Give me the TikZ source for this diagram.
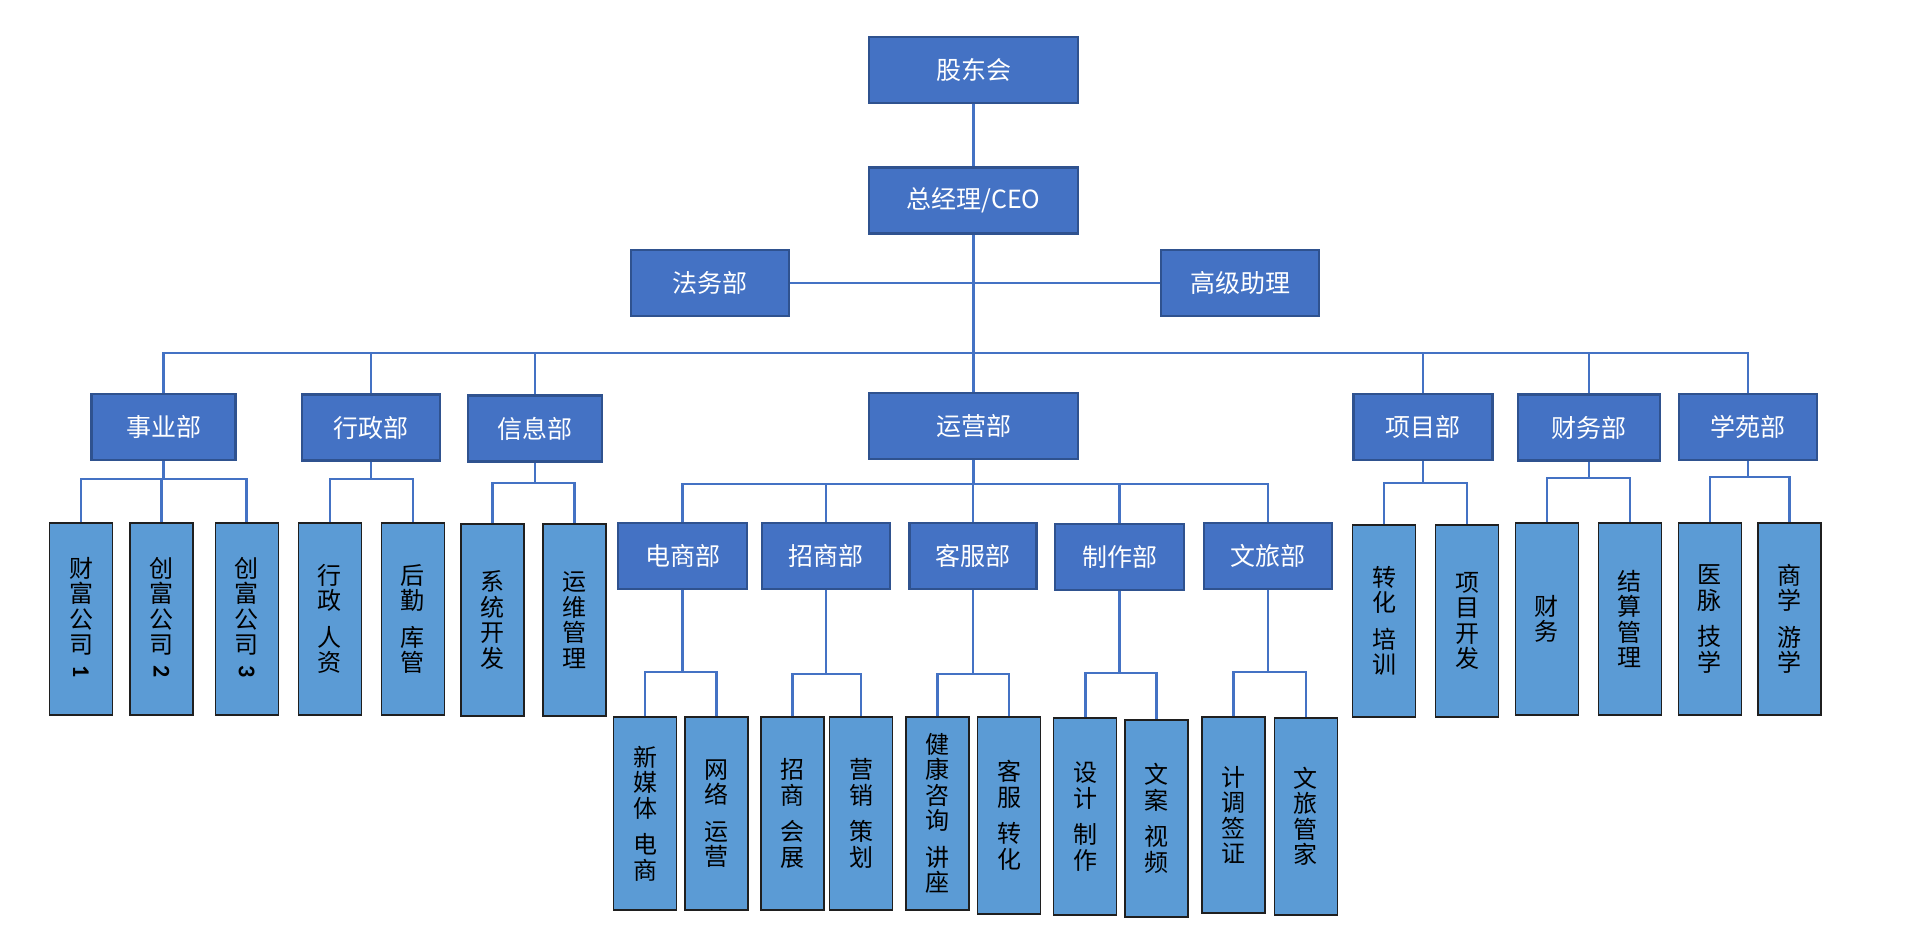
\documentclass[tikz,border=0pt]{standalone}
\usepackage{fontspec}
\newfontfamily\cjk{Noto Sans CJK SC}
\newfontfamily\latb{Carlito}
\definecolor{boxblue}{HTML}{4472C4}
\definecolor{boxborder}{HTML}{2F528F}
\definecolor{leafblue}{HTML}{5B9BD5}
\definecolor{leafborder}{HTML}{1F1F1F}
\definecolor{linkblue}{HTML}{4472C4}
\tikzset{
  lvl/.style={draw=boxborder, line width=2.5pt, fill=boxblue, text=white,
    font=\cjk\fontsize{25}{28}\selectfont, inner sep=0pt, minimum height=66pt},
  leaf/.style={draw=leafborder, line width=1.3pt, fill=leafblue, text=black,
    font=\cjk\fontsize{24}{25.5}\selectfont, align=center, inner sep=0pt, minimum width=63pt},
  digit/.style={rotate=-90, inner sep=0pt, text=black,
    font=\latb\bfseries\fontsize{24}{24}\selectfont},
  conn/.style={draw=linkblue, line width=2.5pt},
}
\newcommand\kidstwo[4]{%
  \coordinate (tmpb) at (0,#4);
  \draw[conn] (#1.south) -- (#1.south |- tmpb);
  \draw[conn] (#2.north) |- (#3.north |- tmpb) -- (#3.north);
}
\begin{document}
\begin{tikzpicture}[x=1pt,y=-1pt]
\useasboundingbox (0,0) rectangle (1920,940);
\fill[white] (0,0) rectangle (1920,940);

% top levels
\node[lvl, minimum width=209pt] (gd) at (973.5,70) {股东会};
\node[lvl, minimum width=209pt] (ceo) at (973.5,200.5) {总经理/CEO};
\node[lvl, minimum width=158pt] (fw) at (710,283) {法务部};
\node[lvl, minimum width=158pt] (gj) at (1240,283) {高级助理};

% departments
\node[lvl, minimum width=144pt] (sy) at (163.5,427) {事业部};
\node[lvl, minimum width=138pt] (xz) at (371,427.5) {行政部};
\node[lvl, minimum width=134pt] (xx) at (535,428.5) {信息部};
\node[lvl, minimum width=209pt] (yy) at (973.5,426) {运营部};
\node[lvl, minimum width=139pt] (xm) at (1423,427) {项目部};
\node[lvl, minimum width=142pt] (cw) at (1589,427.5) {财务部};
\node[lvl, minimum width=138pt] (xy) at (1748,427) {学苑部};

% sub-departments of 运营部
\node[lvl, minimum width=129pt] (ds) at (682.5,556) {电商部};
\node[lvl, minimum width=128pt] (zs) at (826,556) {招商部};
\node[lvl, minimum width=127pt] (kf) at (973,556) {客服部};
\node[lvl, minimum width=129pt] (zz) at (1119.5,557) {制作部};
\node[lvl, minimum width=128pt] (wl) at (1268,556) {文旅部};

% leaves
\node[leaf, minimum height=192pt] (c1) at (81,619) {财\\富\\公\\司\\\phantom{司}};
\node[leaf, minimum height=192pt] (c2) at (161.5,619) {创\\富\\公\\司\\\phantom{司}};
\node[leaf, minimum height=192pt] (c3) at (246.7,619) {创\\富\\公\\司\\\phantom{司}};
\node[yshift=-53pt, digit] (n1) at (c1.center) {1};
\node[yshift=-53pt, digit] (n2) at (c2.center) {2};
\node[yshift=-53pt, digit] (n3) at (c3.center) {3};
\node[leaf, minimum height=192pt] (x1) at (329.8,619) {行\\政\\[11pt]人\\资};
\node[leaf, minimum height=192pt] (x2) at (412.8,619) {后\\勤\\[11pt]库\\管};
\node[leaf, minimum height=192pt] (i1) at (492.5,620) {系\\统\\开\\发};
\node[leaf, minimum height=192pt] (i2) at (574.5,620) {运\\维\\管\\理};

\node[leaf, minimum height=193pt] (d1) at (645,813.5) {新\\媒\\体\\[11pt]电\\商};
\node[leaf, minimum height=193pt] (d2) at (716.5,813.5) {网\\络\\[11pt]运\\营};
\node[leaf, minimum height=193pt] (z1) at (792.4,813.5) {招\\商\\[11pt]会\\展};
\node[leaf, minimum height=193pt] (z2) at (861.2,813.5) {营\\销\\[11pt]策\\划};
\node[leaf, minimum height=193pt] (k1) at (937.4,813.5) {健\\康\\咨\\询\\[11pt]讲\\座};
\node[leaf, minimum height=197pt] (k2) at (1009.2,815.5) {客\\服\\[11pt]转\\化};
\node[leaf, minimum height=197pt] (m1) at (1085.3,816.5) {设\\计\\[11pt]制\\作};
\node[leaf, minimum height=197pt] (m2) at (1156.5,818.5) {文\\案\\[11pt]视\\频};
\node[leaf, minimum height=196pt] (w1) at (1233.5,815) {计\\调\\签\\证};
\node[leaf, minimum height=197pt] (w2) at (1305.9,816.5) {文\\旅\\管\\家};

\node[leaf, minimum height=192pt] (p1) at (1384.2,621) {转\\化\\[11pt]培\\训};
\node[leaf, minimum height=192pt] (p2) at (1467,621) {项\\目\\开\\发};
\node[leaf, minimum height=192pt] (f1) at (1546.9,619) {财\\务};
\node[leaf, minimum height=192pt] (f2) at (1629.9,619) {结\\算\\管\\理};
\node[leaf, minimum height=192pt] (y1) at (1709.8,619) {医\\脉\\[11pt]技\\学};
\node[leaf, minimum height=192pt] (y2) at (1789.4,619) {商\\学\\[11pt]游\\学};

% connectors
\draw[conn] (gd.south) -- (ceo.north);
\draw[conn] (ceo.south) -- (yy.north);
\draw[conn] (fw.east) -- (gj.west);
\coordinate (bus) at (973.5,353);
\draw[conn] (sy.north) |- (xy.north |- bus) -- (xy.north);
\foreach \n in {xz,xx,xm,cw} \draw[conn] (\n.north) -- (\n.north |- bus);

\coordinate (bus2) at (973.5,484);
\draw[conn] (yy.south) -- (yy.south |- bus2);
\draw[conn] (ds.north) |- (wl.north |- bus2) -- (wl.north);
\foreach \n in {zs,kf,zz} \draw[conn] (\n.north) -- (\n.north |- bus2);

% 事业部 (three children)
\coordinate (bsy) at (0,479);
\draw[conn] (sy.south) -- (sy.south |- bsy);
\draw[conn] (c1.north) |- (c3.north |- bsy) -- (c3.north);
\draw[conn] (c2.north) -- (c2.north |- bsy);

\kidstwo{xz}{x1}{x2}{479}
\kidstwo{xx}{i1}{i2}{483}
\kidstwo{ds}{d1}{d2}{672}
\kidstwo{zs}{z1}{z2}{674}
\kidstwo{kf}{k1}{k2}{674}
\kidstwo{zz}{m1}{m2}{673}
\kidstwo{wl}{w1}{w2}{672}
\kidstwo{xm}{p1}{p2}{483}
\kidstwo{cw}{f1}{f2}{478}
\kidstwo{xy}{y1}{y2}{477}
\end{tikzpicture}
\end{document}
